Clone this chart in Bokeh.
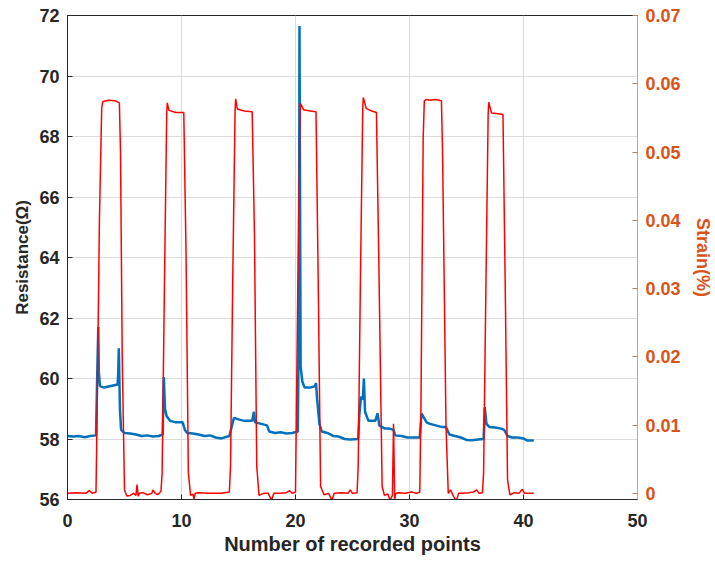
from bokeh.plotting import figure
from bokeh.models import Range1d, LinearAxis, FixedTicker, CustomJSTickFormatter
from bokeh.embed import file_html
from bokeh.resources import INLINE

# ---- data ----
strain_x = [0.0, 0.8, 1.6, 1.9, 2.2, 2.5, 2.6, 2.8, 3.0, 3.1, 3.6, 4.2, 4.55, 4.65, 4.8, 5.0,
            5.2, 5.5, 5.8, 6.0, 6.1, 6.2, 6.3, 6.6, 7.0, 7.4, 7.5, 7.7, 7.9, 8.2, 8.3, 8.5, 8.7,
            8.75, 8.9, 9.5, 10.2, 10.4, 10.6, 10.8, 11.0, 11.1, 11.2, 11.5, 12.5, 13.5, 14.2, 14.3,
            14.5, 14.7, 14.75, 14.9, 15.5, 16.2, 16.4, 16.6, 16.8, 17.2, 17.6, 17.9, 18.1, 18.6,
            19.2, 19.5, 19.7, 20.0, 20.2, 20.4, 20.45, 20.7, 21.3, 21.8, 22.0, 22.2, 22.5, 22.9,
            23.2, 23.4, 24.0, 24.6, 24.8, 25.0, 25.4, 25.5, 25.7, 25.9, 25.95, 26.2, 26.7, 27.1,
            27.3, 27.6, 27.8, 28.1, 28.3, 28.5, 28.6, 28.7, 28.8, 29.0, 29.6, 30.2, 30.6, 30.9,
            31.0, 31.2, 31.3, 31.5, 31.8, 32.3, 32.8, 32.9, 33.2, 33.4, 33.6, 33.8, 34.1, 34.3,
            34.6, 35.2, 35.6, 35.9, 36.1, 36.4, 36.5, 36.7, 36.9, 36.95, 37.2, 37.8, 38.2, 38.4,
            38.6, 38.8, 39.2, 39.6, 39.9, 40.1, 40.5, 40.9]
strain_y = [0.0, 0.0001, 0.0, 0.0004, 0.0, 0.0002, 0.012, 0.040, 0.0565, 0.0574, 0.0576, 0.0575, 0.0572, 0.050, 0.020, 0.0005,
            -0.0004, -0.0003, 0.0, -0.0003, 0.0013, -0.0004, 0.0, 0.0001, -0.0002, 0.0, 0.0005, 0.0, -0.0002, 0.0003, 0.003, 0.030, 0.0555,
            0.0572, 0.0561, 0.0558, 0.0558, 0.035, 0.003, -0.0003, -0.0001, -0.0008, 0.0, 0.0001, 0.0, 0.0, 0.0002, 0.004,
            0.032, 0.0560, 0.0578, 0.0563, 0.0560, 0.0559, 0.038, 0.004, -0.0003, 0.0, 0.0, -0.0010, 0.0, 0.0,
            0.0001, 0.0004, 0.0, 0.0002, 0.030, 0.0560, 0.0571, 0.0562, 0.0560, 0.0559, 0.030, 0.001, -0.0002, 0.0,
            -0.0010, 0.0, 0.0001, 0.0, 0.0005, 0.0, 0.0001, 0.004, 0.032, 0.0565, 0.0580, 0.0564, 0.0560, 0.0558,
            0.035, 0.001, -0.0003, -0.0001, -0.0010, -0.0003, 0.0102, -0.0008, 0.0, 0.0001, 0.0, 0.0002, 0.0, 0.0002,
            0.012, 0.052, 0.0575, 0.0577, 0.0576, 0.0577, 0.0575, 0.050, 0.010, 0.0, 0.0005, -0.0002, -0.0012, 0.0,
            0.0, 0.0001, 0.0002, 0.0005, 0.0, 0.0001, 0.003, 0.030, 0.0556, 0.0573, 0.0557, 0.0556, 0.0555, 0.030,
            0.002, -0.0002, 0.0001, 0.0, 0.0006, 0.0, 0.0, 0.0]

res_x = [0.0, 0.5, 1.0, 1.5, 2.0, 2.5, 2.6, 2.7, 2.75, 2.85, 3.2, 3.8, 4.4, 4.45, 4.5, 4.6,
         4.7, 5.0, 5.5, 6.0, 6.5, 7.0, 7.5, 8.0, 8.35, 8.45, 8.55, 8.7, 9.0, 9.5, 10.1, 10.3,
         10.5, 11.0, 11.5, 12.0, 12.5, 13.0, 13.5, 14.2, 14.4, 14.6, 15.0, 15.5, 16.2, 16.35,
         16.45, 17.0, 17.5, 17.7, 18.2, 18.7, 19.2, 19.7, 20.2, 20.3, 20.35, 20.45, 20.6, 20.8,
         21.3, 21.7, 21.8, 21.9, 22.1, 22.3, 22.8, 23.3, 23.8, 24.3, 24.8, 25.5, 25.6, 25.75,
         25.9, 26.0, 26.1, 26.4, 27.0, 27.2, 27.35, 27.8, 28.2, 28.6, 28.75, 29.3, 29.8, 30.4,
         30.9, 31.05, 31.2, 31.5, 31.8, 32.3, 32.8, 33.2, 33.5, 34.0, 34.5, 35.0, 35.5, 36.0,
         36.5, 36.6, 36.75, 37.0, 37.5, 38.0, 38.3, 38.6, 39.0, 39.5, 40.0, 40.3, 40.9]
res_y = [58.10, 58.08, 58.10, 58.06, 58.10, 58.12, 60.0, 61.70, 60.2, 59.75, 59.70, 59.75, 59.80, 60.2, 61.00, 59.0,
         58.30, 58.20, 58.18, 58.15, 58.10, 58.12, 58.08, 58.10, 58.15, 60.05, 59.0, 58.75, 58.60, 58.55, 58.55, 58.30,
         58.20, 58.18, 58.15, 58.10, 58.12, 58.05, 58.02, 58.10, 58.40, 58.70, 58.65, 58.60, 58.60, 58.90,
         58.55, 58.50, 58.45, 58.25, 58.20, 58.22, 58.18, 58.20, 58.25, 62.0, 71.65, 60.40, 59.90, 59.70,
         59.70, 59.75, 59.85, 59.3, 58.5, 58.25, 58.20, 58.10, 58.08, 58.00, 57.98, 58.00, 58.80, 59.40,
         59.30, 60.00, 58.90, 58.60, 58.60, 58.85, 58.45, 58.35, 58.35, 58.30, 58.12, 58.10, 58.05, 58.05,
         58.05, 58.85, 58.75, 58.55, 58.50, 58.45, 58.40, 58.40, 58.15, 58.10, 58.05, 57.97, 57.96, 57.98,
         58.00, 59.05, 58.50, 58.40, 58.38, 58.35, 58.30, 58.10, 58.05, 58.05, 58.02, 57.95, 57.95]

x_ticks = [0, 10, 20, 30, 40, 50]
left_ticks = [56, 58, 60, 62, 64, 66, 68, 70, 72]
right_ticks = [0.0, 0.01, 0.02, 0.03, 0.04, 0.05, 0.06, 0.07]

FONT = "Liberation Sans"
DARK = "#262626"
ORANGE = "#D95319"

p = figure(width=715, height=561, output_backend="svg", toolbar_location=None,
           x_range=Range1d(0, 50), y_range=Range1d(56, 72),
           min_border_left=67, min_border_right=74, min_border_top=15, min_border_bottom=62)
p.extra_y_ranges = {"strain": Range1d(-0.0009, 0.07)}

p.background_fill_color = "white"
p.outline_line_color = DARK
p.outline_line_width = 1

# grids
p.xgrid.ticker = FixedTicker(ticks=x_ticks)
p.ygrid.ticker = FixedTicker(ticks=left_ticks)
for g in (p.xgrid, p.ygrid):
    g.grid_line_color = "#dcdcdc"
    g.grid_line_width = 1

# bottom axis
xa = p.xaxis[0]
xa.ticker = FixedTicker(ticks=x_ticks)
xa.axis_label = "Number of recorded points"
# left axis
ya = p.yaxis[0]
ya.ticker = FixedTicker(ticks=left_ticks)
ya.axis_label = "Resistance(Ω)"

for ax in (xa, ya):
    ax.axis_line_color = DARK
    ax.major_tick_line_color = DARK
    ax.major_tick_in = 5
    ax.major_tick_out = 0
    ax.minor_tick_line_color = None
    ax.major_label_text_font = FONT
    ax.major_label_text_font_style = "bold"
    ax.major_label_text_font_size = "18px"
    ax.major_label_text_color = DARK
    ax.axis_label_text_font = FONT
    ax.axis_label_text_font_style = "bold"
    ax.axis_label_text_color = DARK
xa.major_label_standoff = 14
xa.axis_label_standoff = 3
xa.axis_label_text_font_size = "20px"
ya.major_label_standoff = 8
ya.axis_label_standoff = 4
ya.axis_label_text_font_size = "17px"

# right axis
ra = LinearAxis(y_range_name="strain", ticker=FixedTicker(ticks=right_ticks),
                axis_label="Strain(%)")
ra.formatter = CustomJSTickFormatter(code="return Math.abs(tick) < 1e-9 ? '0' : tick.toFixed(2);")
ra.axis_line_color = "#c9a585"
ra.major_tick_line_color = "#b08060"
ra.major_tick_in = 5
ra.major_tick_out = 0
ra.minor_tick_line_color = None
ra.major_label_standoff = 8
ra.major_label_text_font = FONT
ra.major_label_text_font_style = "bold"
ra.major_label_text_font_size = "18px"
ra.major_label_text_color = ORANGE
ra.axis_label_text_font = FONT
ra.axis_label_text_font_style = "bold"
ra.axis_label_text_font_size = "18px"
ra.axis_label_text_color = ORANGE
ra.axis_label_standoff = 9
p.add_layout(ra, "right")

# lines
p.line(res_x, res_y, line_color="#0072BD", line_width=2.5)
p.line(strain_x, strain_y, y_range_name="strain", line_color="#FF0000", line_width=1.5)

open("out.html", "w").write(file_html(p, INLINE))
